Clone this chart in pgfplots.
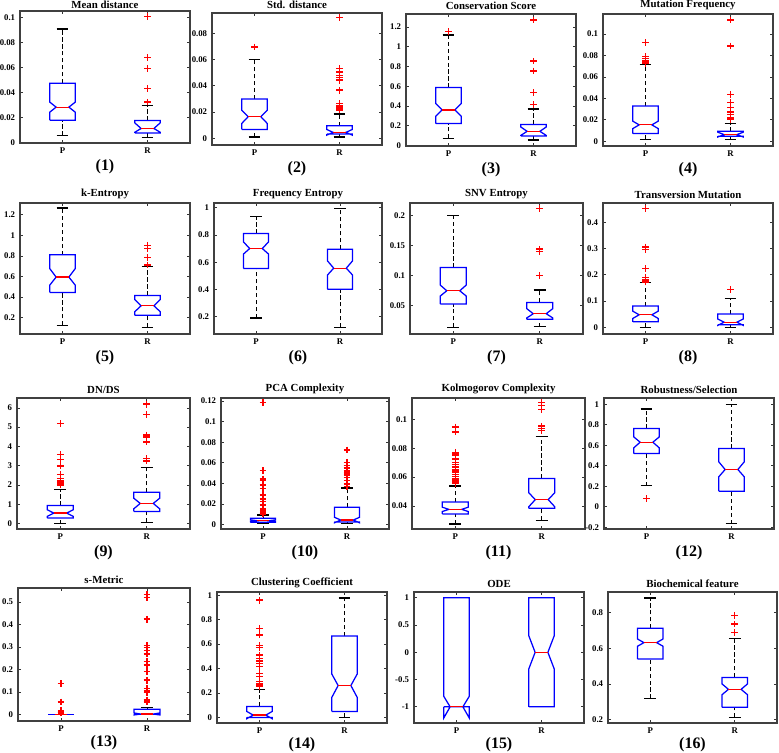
\documentclass[border=0pt]{standalone}
\usepackage{pgfplots}
\pgfplotsset{compat=1.18}
\usepackage{fontspec}
\setmainfont{Liberation Serif}

\pgfplotsset{
  bp/.style={
    scale only axis, anchor=south west,
    xmin=0.5, xmax=2.5, xtick={1,2}, xticklabels={P,R},
    tick align=inside, major tick length=2.2pt,
    tick style={black!80, line width=0.5pt},
    axis line style={black!75, line width=0.8pt},
    scaled y ticks=false,
    /pgf/number format/assume math mode=true,
    yticklabel style={/pgf/number format/fixed, /pgf/number format/precision=2},
    tick label style={font=\bfseries\fontsize{6.3}{7}\selectfont},
    title style={font=\bfseries\fontsize{7.8}{9}\selectfont, yshift=-6.5pt},
    xlabel style={font=\bfseries\fontsize{11.5}{13}\selectfont, yshift=2.5pt},
  },
  bxs/.style={blue, line width=0.9pt, mark=none},
  mds/.style={red, line width=0.9pt, mark=none},
  whs/.style={black, line width=0.7pt, dash pattern=on 3pt off 2pt, mark=none},
  cps/.style={black, line width=0.9pt, mark=none},
  ols/.style={only marks, mark=+, color=red, draw=red, mark size=2.4pt,
    mark options={draw=red, solid, line width=1pt}},
}

% #1 lower whisker, #2 q1, #3 notch low, #4 median, #5 notch high, #6 q3, #7 upper whisker
\newcommand{\boxP}[7]{%
  \addplot[whs] coordinates {(1,#6) (1,#7)};
  \addplot[whs] coordinates {(1,#1) (1,#2)};
  \addplot[cps] coordinates {(0.93,#7) (1.07,#7)};
  \addplot[cps] coordinates {(0.93,#1) (1.07,#1)};
  \addplot[bxs] coordinates {(0.85,#2) (0.85,#3) (0.925,#4) (0.85,#5) (0.85,#6) (1.15,#6) (1.15,#5) (1.075,#4) (1.15,#3) (1.15,#2) (0.85,#2)};
  \addplot[mds] coordinates {(0.925,#4) (1.075,#4)};
}
\newcommand{\boxR}[7]{%
  \addplot[whs] coordinates {(2,#6) (2,#7)};
  \addplot[whs] coordinates {(2,#1) (2,#2)};
  \addplot[cps] coordinates {(1.93,#7) (2.07,#7)};
  \addplot[cps] coordinates {(1.93,#1) (2.07,#1)};
  \addplot[bxs] coordinates {(1.85,#2) (1.85,#3) (1.925,#4) (1.85,#5) (1.85,#6) (2.15,#6) (2.15,#5) (2.075,#4) (2.15,#3) (2.15,#2) (1.85,#2)};
  \addplot[mds] coordinates {(1.925,#4) (2.075,#4)};
}

\begin{document}
\begin{tikzpicture}
% ---------- Row 1 ----------
\begin{axis}[bp, at={(14.4pt,438.5pt)}, width=122.4pt, height=95.04pt,
  ymin=0, ymax=0.105, ytick={0,0.02,0.04,0.06,0.08,0.1},
  title={Mean distance}, title style={yshift=-1.6pt}, xlabel={(1)}]
\boxP{0.0059}{0.0181}{0.0245}{0.0285}{0.0325}{0.0475}{0.0907}
\boxR{0.0045}{0.008}{0.0085}{0.0115}{0.0160}{0.0178}{0.0299}
\addplot[ols] coordinates {(2,0.1005) (2,0.068) (2,0.059) (2,0.0432) (2,0.0325)};
\end{axis}

\begin{axis}[bp, at={(152.64pt,437.04pt)}, width=122.4pt, height=95.04pt,
  ymin=-0.005, ymax=0.0954, ytick={0,0.02,0.04,0.06,0.08},
  title={Std. distance}, xlabel={(2)}]
\boxP{0.001}{0.0068}{0.0114}{0.0165}{0.0215}{0.0299}{0.060}
\boxR{0.001}{0.0033}{0.0025}{0.0046}{0.0068}{0.0096}{0.0185}
\addplot[ols] coordinates {(1,0.0696)};
\addplot[ols] coordinates {(2,0.0919) (2,0.0532) (2,0.0506) (2,0.0480) (2,0.0463) (2,0.0443) (2,0.0367) (2,0.0266) (2,0.0252) (2,0.0240) (2,0.0228) (2,0.0215)};
\end{axis}

\begin{axis}[bp, at={(292.32pt,436.32pt)}, width=122.4pt, height=95.04pt,
  ymin=-0.007, ymax=1.332, ytick={0,0.2,0.4,0.6,0.8,1,1.2},
  title={Conservation Score}, xlabel={(3)}]
\boxP{0.071}{0.22}{0.294}{0.359}{0.424}{0.586}{1.119}
\boxR{0.054}{0.095}{0.10}{0.142}{0.186}{0.21}{0.369}
\addplot[ols] coordinates {(1,1.153)};
\addplot[ols] coordinates {(2,1.271) (2,0.854) (2,0.753) (2,0.536) (2,0.414)};
\end{axis}

\begin{axis}[bp, at={(434.16pt,436.32pt)}, width=122.4pt, height=95.04pt,
  ymin=-0.0044, ymax=0.1187, ytick={0,0.02,0.04,0.06,0.08,0.1},
  title={Mutation Frequency}, xlabel={(4)}]
\boxP{0.0016}{0.0072}{0.0118}{0.0153}{0.0188}{0.033}{0.0717}
\boxR{0.0016}{0.0047}{0.0040}{0.0062}{0.0085}{0.0093}{0.0165}
\addplot[ols] coordinates {(1,0.0919) (1,0.0788) (1,0.0773) (1,0.075) (1,0.0738) (1,0.0732) (1,0.0726)};
\addplot[ols] coordinates {(2,0.113) (2,0.0888) (2,0.0436) (2,0.0361) (2,0.0315) (2,0.0274) (2,0.025) (2,0.0218) (2,0.0202)};
\end{axis}

% ---------- Row 2 ----------
\begin{axis}[bp, at={(14.4pt,300.96pt)}, width=122.4pt, height=94.32pt,
  ymin=0.042, ymax=1.313, ytick={0.2,0.4,0.6,0.8,1,1.2},
  title={k-Entropy}, xlabel={(5)}]
\boxP{0.126}{0.445}{0.516}{0.594}{0.677}{0.81}{1.265}
\boxR{0.106}{0.223}{0.258}{0.316}{0.377}{0.416}{0.70}
\addplot[ols] coordinates {(2,0.903) (2,0.872) (2,0.784) (2,0.712)};
\end{axis}

\begin{axis}[bp, at={(154.08pt,300.96pt)}, width=120.96pt, height=94.32pt,
  ymin=0.073, ymax=1.034, ytick={0.2,0.4,0.6,0.8,1},
  title={Frequency Entropy}, xlabel={(6)}]
\boxP{0.19}{0.554}{0.659}{0.70}{0.749}{0.81}{0.937}
\boxR{0.122}{0.402}{0.505}{0.556}{0.61}{0.695}{0.995}
\end{axis}

\begin{axis}[bp, at={(295.2pt,300.96pt)}, width=124.56pt, height=94.32pt,
  ymin=0.0022, ymax=0.221, ytick={0.05,0.1,0.15,0.2},
  title={SNV Entropy}, xlabel={(7)}]
\boxP{0.0133}{0.0522}{0.0656}{0.0744}{0.0839}{0.1133}{0.2}
\boxR{0.0144}{0.0267}{0.029}{0.0361}{0.0445}{0.055}{0.0756}
\addplot[ols] coordinates {(2,0.2122) (2,0.1439) (2,0.14) (2,0.1)};
\end{axis}

\begin{axis}[bp, at={(434.16pt,300.96pt)}, width=122.4pt, height=94.32pt,
  ymin=-0.025, ymax=0.473, ytick={0,0.1,0.2,0.3,0.4},
  title={Transversion Mutation}, xlabel={(8)}]
\boxP{0}{0.0215}{0.034}{0.048}{0.062}{0.081}{0.17}
\boxR{0}{0.01}{0.008}{0.02}{0.032}{0.051}{0.109}
\addplot[ols] coordinates {(1,0.453) (1,0.306) (1,0.297) (1,0.224) (1,0.19) (1,0.18) (1,0.173)};
\addplot[ols] coordinates {(2,0.144)};
\end{axis}

% ---------- Row 3 ----------
\begin{axis}[bp, at={(12.24pt,160.56pt)}, width=124.56pt, height=94.32pt,
  ymin=-0.275, ymax=6.51, ytick={0,1,2,3,4,5,6},
  title={DN/DS}, xlabel={(9)}]
\boxP{0}{0.29}{0.378}{0.55}{0.72}{0.945}{1.77}
\boxR{0.07}{0.636}{0.77}{1.05}{1.32}{1.63}{2.9}
\addplot[ols] coordinates {(1,5.19) (1,3.59) (1,3.33) (1,2.99) (1,2.56) (1,2.35) (1,2.22) (1,2.10) (1,2.01)};
\addplot[ols] coordinates {(2,6.19) (2,5.67) (2,4.59) (2,4.50) (2,4.24) (2,3.38) (2,3.25)};
\end{axis}

\begin{axis}[bp, at={(159.12pt,160.56pt)}, width=120.96pt, height=94.32pt,
  ymin=-0.0042, ymax=0.1229, ytick={0,0.02,0.04,0.06,0.08,0.1,0.12},
  title={PCA Complexity}, xlabel={(10)}]
\boxP{0.0013}{0.0023}{0.0031}{0.0039}{0.0047}{0.0062}{0.0094}
\boxR{0.0013}{0.0026}{0.0018}{0.0045}{0.0072}{0.0169}{0.0357}
\addplot[ols] coordinates {(1,0.1183) (1,0.0525) (1,0.0444) (1,0.0428) (1,0.0386) (1,0.0353) (1,0.0289) (1,0.025) (1,0.0224) (1,0.0191) (1,0.0152) (1,0.0133) (1,0.012) (1,0.011) (1,0.0105)};
\addplot[ols] coordinates {(2,0.0726) (2,0.0606) (2,0.0574) (2,0.0548) (2,0.0522) (2,0.0502) (2,0.0483) (2,0.046) (2,0.0428) (2,0.0395) (2,0.037)};
\end{axis}

\begin{axis}[bp, at={(296.64pt,160.56pt)}, width=124.56pt, height=94.32pt,
  ymin=0.0241, ymax=0.1147, ytick={0.04,0.06,0.08,0.1},
  title={Kolmogorov Complexity}, xlabel={(11)}]
\boxP{0.0276}{0.0345}{0.0362}{0.0377}{0.0392}{0.0428}{0.0538}
\boxR{0.0301}{0.0384}{0.0395}{0.0444}{0.0492}{0.0591}{0.0883}
\addplot[ols] coordinates {(1,0.0947) (1,0.0913) (1,0.0772) (1,0.0760) (1,0.0748) (1,0.0725) (1,0.0700) (1,0.0688) (1,0.067) (1,0.065) (1,0.0635) (1,0.062) (1,0.0605) (1,0.059) (1,0.058) (1,0.0572) (1,0.0565) (1,0.0558)};
\addplot[ols] coordinates {(2,0.1115) (2,0.1097) (2,0.1067) (2,0.0952) (2,0.0936) (2,0.0924)};
\end{axis}

\begin{axis}[bp, at={(434.88pt,160.56pt)}, width=122.4pt, height=94.32pt,
  ymin=-0.217, ymax=1.06, ytick={-0.2,0,0.2,0.4,0.6,0.8,1},
  title={Robustness/Selection}, xlabel={(12)}]
\boxP{0.204}{0.519}{0.574}{0.629}{0.681}{0.762}{0.953}
\boxR{-0.165}{0.152}{0.292}{0.363}{0.438}{0.567}{0.998}
\addplot[ols] coordinates {(1,0.081)};
\end{axis}

% ---------- Row 4 ----------
\begin{axis}[bp, at={(12.96pt,22.32pt)}, width=123.84pt, height=95.76pt,
  ymin=-0.03, ymax=0.563, ytick={0,0.1,0.2,0.3,0.4,0.5},
  title={s-Metric}, xlabel={(13)}, xlabel style={yshift=1.5pt}]
\boxP{0}{0}{0}{0}{0}{0}{0}
\boxR{0}{0}{-0.003}{0.001}{0.006}{0.022}{0.03}
\addplot[ols] coordinates {(1,0.137) (1,0.055) (1,0.018) (1,0.012) (1,0.008) (1,0.005)};
\addplot[ols] coordinates {(2,0.533) (2,0.521) (2,0.424) (2,0.306) (2,0.299) (2,0.284) (2,0.269) (2,0.234) (2,0.219) (2,0.19) (2,0.152) (2,0.115) (2,0.103) (2,0.097) (2,0.063) (2,0.055)};
\end{axis}

\begin{axis}[bp, at={(156.24pt,20.88pt)}, width=122.4pt, height=94.32pt,
  ymin=-0.046, ymax=1.027, ytick={0,0.2,0.4,0.6,0.8,1},
  title={Clustering Coefficient}, xlabel={(14)}, xlabel style={yshift=1.5pt}]
\boxP{0}{0}{-0.011}{0.019}{0.049}{0.09}{0.226}
\boxR{0}{0.049}{0.163}{0.261}{0.356}{0.666}{0.978}
\addplot[ols] coordinates {(1,0.96) (1,0.728) (1,0.674) (1,0.587) (1,0.571) (1,0.511) (1,0.484) (1,0.462) (1,0.443) (1,0.416) (1,0.361) (1,0.334) (1,0.293) (1,0.28) (1,0.266) (1,0.253)};
\end{axis}

\begin{axis}[bp, at={(298.08pt,20.88pt)}, width=122.4pt, height=94.32pt,
  ymin=-1.297, ymax=1.107, ytick={-1,-0.5,0,0.5,1},
  title={ODE}, xlabel={(15)}, xlabel style={yshift=1.5pt}]
\boxP{-1}{-1}{-1.205}{-1}{-0.807}{1}{1}
\boxR{-1}{-1}{-0.306}{0}{0.306}{1}{1}
\end{axis}

\begin{axis}[bp, at={(437.76pt,20.88pt)}, width=121.68pt, height=94.32pt,
  ymin=0.181, ymax=0.916, ytick={0.2,0.4,0.6,0.8},
  title={Biochemical feature}, xlabel={(16)}, xlabel style={yshift=1.5pt}]
\boxP{0.318}{0.54}{0.612}{0.632}{0.652}{0.712}{0.882}
\boxR{0.213}{0.269}{0.34}{0.37}{0.40}{0.437}{0.654}
\addplot[ols] coordinates {(2,0.785) (2,0.736) (2,0.69)};
\end{axis}

\pgfresetboundingbox
\path[use as bounding box] (0,0) rectangle (560.88pt,541.44pt);
\end{tikzpicture}
\end{document}
